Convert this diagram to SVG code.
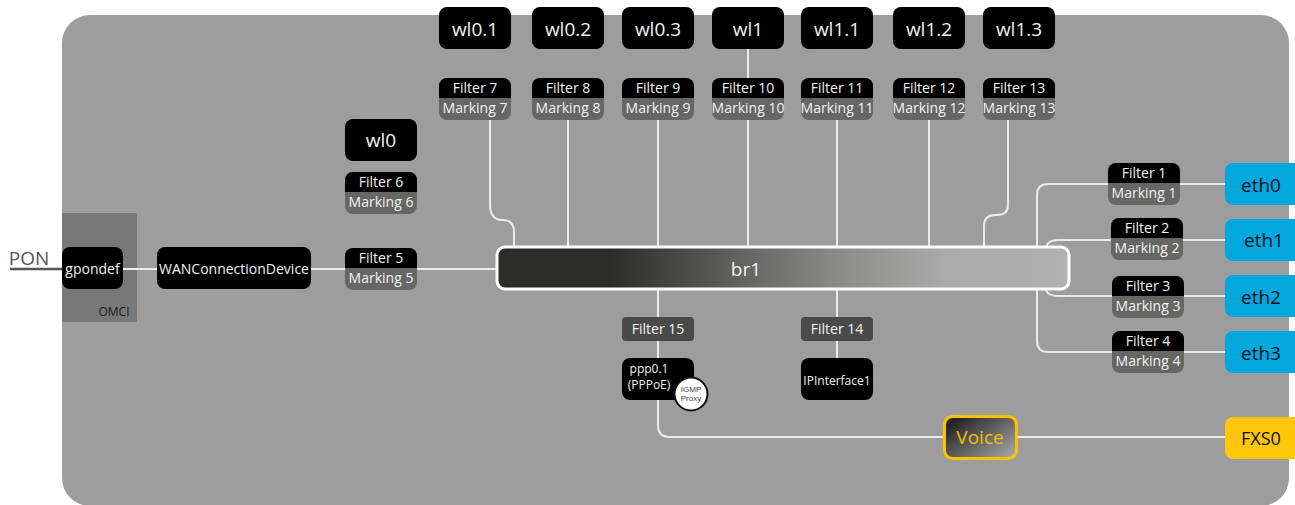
<svg xmlns="http://www.w3.org/2000/svg" width="1295" height="505" viewBox="0 0 1295 505">
<style>
text{font-family:"Open Sans","Noto Sans","Liberation Sans",sans-serif;text-anchor:middle;fill:#f2f2f2}
.k{fill:#000}.m{fill:#666664}.f{fill:#4a4a4a}
.t1{font-size:14px}.t2{font-size:19px}.t3{font-size:12px}
.c path,.c line{fill:none;stroke:#ebebeb;stroke-width:2}
.d{fill:#06121a}
</style>
<defs>
<linearGradient id="brg" x1="0" x2="1" y1="0" y2="0"><stop offset="0.2" stop-color="#2c2c2a"/><stop offset="0.4" stop-color="#5c5c58"/><stop offset="0.6" stop-color="#8c8c8a"/><stop offset="0.78" stop-color="#a9aaa9"/><stop offset="1" stop-color="#b0b1b0"/></linearGradient>
<linearGradient id="vg" x1="0" x2="1" y1="0.1" y2="0.9"><stop offset="0.1" stop-color="#262626"/><stop offset="1" stop-color="#a6a7a6"/></linearGradient>
<g id="fm"><rect width="72" height="42" rx="8" class="m"/><path d="M0 20V8a8 8 0 0 1 8-8H64a8 8 0 0 1 8 8V20Z" class="k"/></g>
</defs>
<rect x="62" y="15" width="1227" height="491" rx="28" fill="#9c9d9c"/>
<g id="omci"><rect x="62" y="213" width="75" height="109" fill="#777877" rx="1"/><text x="114" y="316" class="t3" style="fill:#1c1c1c">OMCI</text></g>
<g class="c" id="connectors">
<line x1="10" y1="269" x2="62" y2="269" style="stroke:#555;stroke-width:2.5"/>
<line x1="123" y1="269" x2="157" y2="269"/>
<line x1="311" y1="269" x2="497" y2="269"/>
<line x1="748" y1="49" x2="748" y2="78"/>
<path d="M490 120V205Q490 220 503 220H503Q514 220 514 232V247"/>
<line x1="568" y1="120" x2="568" y2="247"/>
<line x1="658" y1="120" x2="658" y2="247"/>
<line x1="748" y1="120" x2="748" y2="247"/>
<line x1="837" y1="120" x2="837" y2="247"/>
<line x1="929" y1="120" x2="929" y2="247"/>
<path d="M1008 120V205Q1008 215 997 215H995Q984 215 984 226V247"/>
<path d="M1037 247V195Q1037 184 1048 184H1225"/>
<path d="M1046 247Q1048 240 1058 240H1225"/>
<path d="M1046 290Q1048 296 1058 296H1225"/>
<path d="M1037 290V341Q1037 352 1048 352H1225"/>
<line x1="658" y1="290" x2="658" y2="358"/>
<line x1="837" y1="290" x2="837" y2="358"/>
<path d="M658 400V425Q658 437 670 437H944"/>
<line x1="1017" y1="437" x2="1225" y2="437"/>
</g>
<text x="29" y="265" style="font-size:19px;fill:#555">PON</text>
<g id="gpondef"><rect x="62" y="247" width="61" height="42" rx="8" class="k"/><text x="92.500" y="274" class="t1">gpondef</text></g>
<g id="wan"><rect x="157" y="247" width="154" height="42" rx="8" class="k"/><text x="234" y="274" class="t1">WANConnectionDevice</text></g>
<g id="wl01"><rect x="439" y="7" width="72" height="42" rx="8" class="k"/><text x="475" y="36" class="t2">wl0.1</text></g>
<g id="wl02"><rect x="532" y="7" width="72" height="42" rx="8" class="k"/><text x="568" y="36" class="t2">wl0.2</text></g>
<g id="wl03"><rect x="622" y="7" width="72" height="42" rx="8" class="k"/><text x="658" y="36" class="t2">wl0.3</text></g>
<g id="wl1"><rect x="712" y="7" width="72" height="42" rx="8" class="k"/><text x="748" y="36" class="t2">wl1</text></g>
<g id="wl11"><rect x="801" y="7" width="72" height="42" rx="8" class="k"/><text x="837" y="36" class="t2">wl1.1</text></g>
<g id="wl12"><rect x="893" y="7" width="72" height="42" rx="8" class="k"/><text x="929" y="36" class="t2">wl1.2</text></g>
<g id="wl13"><rect x="983" y="7" width="72" height="42" rx="8" class="k"/><text x="1019" y="36" class="t2">wl1.3</text></g>
<g id="wl0"><rect x="345" y="119" width="72" height="42" rx="8" class="k"/><text x="381" y="147" class="t2">wl0</text></g>
<g id="f7"><use href="#fm" x="439" y="78"/><text x="475" y="93" class="t1">Filter 7</text><text x="475" y="113" class="t1">Marking 7</text></g>
<g id="f8"><use href="#fm" x="532" y="78"/><text x="568" y="93" class="t1">Filter 8</text><text x="568" y="113" class="t1">Marking 8</text></g>
<g id="f9"><use href="#fm" x="622" y="78"/><text x="658" y="93" class="t1">Filter 9</text><text x="658" y="113" class="t1">Marking 9</text></g>
<g id="f10"><use href="#fm" x="712" y="78"/><text x="748" y="93" class="t1">Filter 10</text><text x="748" y="113" class="t1">Marking 10</text></g>
<g id="f11"><use href="#fm" x="801" y="78"/><text x="837" y="93" class="t1">Filter 11</text><text x="837" y="113" class="t1">Marking 11</text></g>
<g id="f12"><use href="#fm" x="893" y="78"/><text x="929" y="93" class="t1">Filter 12</text><text x="929" y="113" class="t1">Marking 12</text></g>
<g id="f13"><use href="#fm" x="983" y="78"/><text x="1019" y="93" class="t1">Filter 13</text><text x="1019" y="113" class="t1">Marking 13</text></g>
<g id="f6"><use href="#fm" x="345" y="172"/><text x="381" y="187" class="t1">Filter 6</text><text x="381" y="207" class="t1">Marking 6</text></g>
<g id="f5"><use href="#fm" x="345" y="248"/><text x="381" y="263" class="t1">Filter 5</text><text x="381" y="283" class="t1">Marking 5</text></g>
<g id="f1"><use href="#fm" x="1108" y="163"/><text x="1144" y="178" class="t1">Filter 1</text><text x="1144" y="198" class="t1">Marking 1</text></g>
<g id="f2"><use href="#fm" x="1111" y="218"/><text x="1147" y="233" class="t1">Filter 2</text><text x="1147" y="253" class="t1">Marking 2</text></g>
<g id="f3"><use href="#fm" x="1112" y="276"/><text x="1148" y="291" class="t1">Filter 3</text><text x="1148" y="311" class="t1">Marking 3</text></g>
<g id="f4"><use href="#fm" x="1112" y="331"/><text x="1148" y="346" class="t1">Filter 4</text><text x="1148" y="366" class="t1">Marking 4</text></g>
<g id="br1"><rect x="497" y="247" width="572" height="42" rx="8" fill="url(#brg)" stroke="#fff" stroke-width="3"/><text x="746" y="276" style="font-size:19px">br1</text></g>
<g id="f15"><rect x="622" y="317" width="72" height="24" rx="4" class="f"/><text x="658" y="334" class="t1">Filter 15</text></g>
<g id="f14"><rect x="801" y="317" width="72" height="24" rx="4" class="f"/><text x="837" y="334" class="t1">Filter 14</text></g>
<g id="ppp"><rect x="622" y="358" width="72" height="42" rx="8" class="k"/><text x="649" y="373" class="t3">ppp0.1</text><text x="649" y="389" class="t3">(PPPoE)</text></g>
<g id="igmp"><circle cx="691" cy="394" r="16.500" fill="#fff" stroke="#111" stroke-width="2"/><text x="691" y="392" style="font-size:8px;fill:#444;font-family:'Liberation Sans',sans-serif">IGMP</text><text x="691" y="401" style="font-size:8px;fill:#444;font-family:'Liberation Sans',sans-serif">Proxy</text></g>
<g id="ip"><rect x="801" y="358" width="72" height="42" rx="8" class="k"/><text x="837" y="385" class="t3">IPInterface1</text></g>
<g id="voice"><rect x="944.500" y="416.500" width="72" height="42" rx="8" fill="url(#vg)" stroke="#fdc300" stroke-width="3"/><text x="980" y="444" style="font-size:19px;fill:#f5bd00">Voice</text></g>
<g id="eth0"><rect x="1225" y="163" width="90" height="42" rx="8" fill="#00a8de"/><text x="1261" y="192" class="t2 d">eth0</text></g>
<g id="eth1"><rect x="1225" y="219" width="90" height="42" rx="8" fill="#00a8de"/><text x="1264" y="247" class="t2 d">eth1</text></g>
<g id="eth2"><rect x="1225" y="275" width="90" height="42" rx="8" fill="#00a8de"/><text x="1261" y="304" class="t2 d">eth2</text></g>
<g id="eth3"><rect x="1225" y="331" width="90" height="42" rx="8" fill="#00a8de"/><text x="1261" y="360" class="t2 d">eth3</text></g>
<g id="fxs0"><rect x="1225" y="417" width="90" height="42" rx="8" fill="#ffc60a"/><text x="1261" y="445" class="t2 d" style="font-size:18px">FXS0</text></g>
</svg>
